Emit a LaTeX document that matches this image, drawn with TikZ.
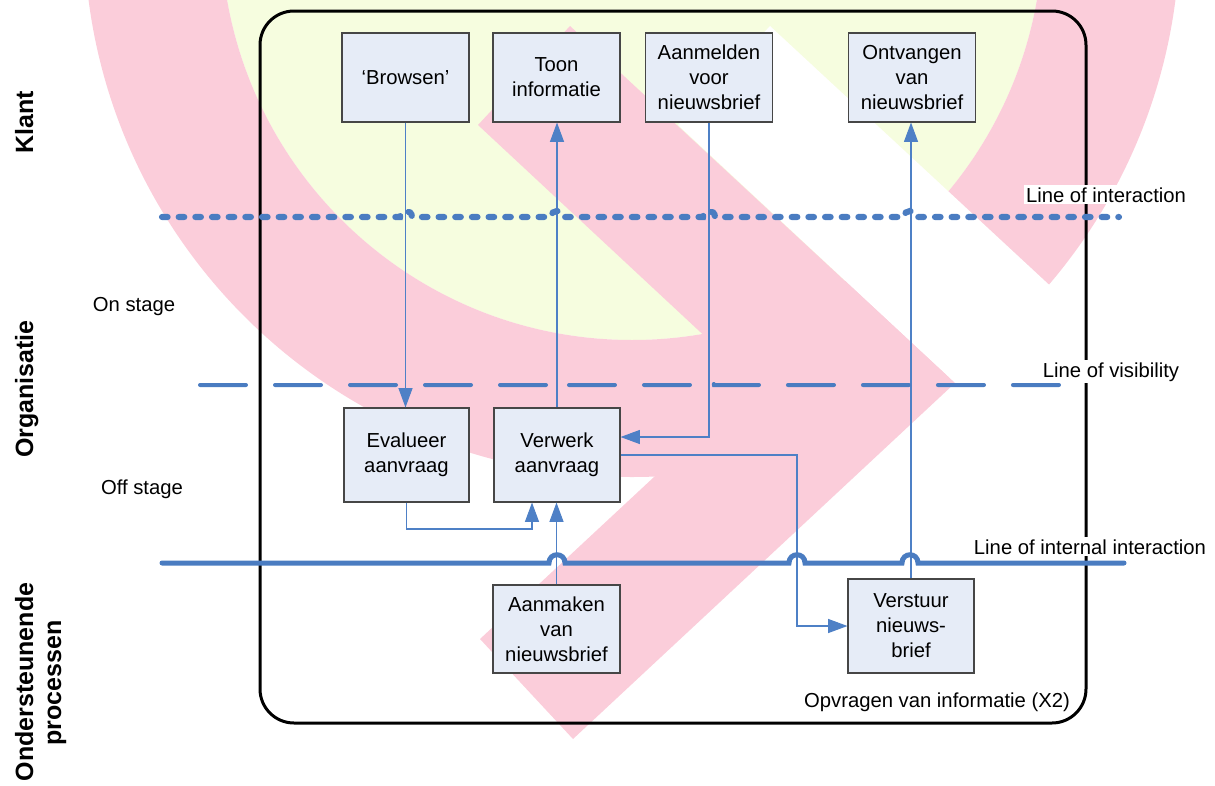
\documentclass[tikz,border=0pt]{standalone}
\usepackage{fontspec}
\setmainfont{Liberation Sans}
\usetikzlibrary{arrows.meta,calc}

\definecolor{wmpink}{RGB}{251,205,218}
\definecolor{wmlime}{RGB}{246,253,223}
\definecolor{laneblue}{RGB}{74,124,193}
\definecolor{linkblue}{RGB}{78,128,198}
\definecolor{boxfill}{RGB}{230,236,247}
\definecolor{boxedge}{RGB}{70,70,70}

\tikzset{
  txt/.style={font=\fontsize{15.2}{18.75}\selectfont},
  stepbox/.style={txt, draw=boxedge, line width=0.8pt, fill=boxfill, align=center,
                  minimum width=95.25pt, minimum height=66.75pt, inner sep=0pt},
  link/.style={draw=linkblue, line width=0.8pt},
  arr/.style={link, -{Triangle[length=14.5pt,width=10.5pt]}},
  lanelabel/.style={txt, fill=white, inner sep=1.5pt, anchor=base},
  sidelabel/.style={txt, anchor=base},
  zone/.style={font=\fontsize{18.75}{21}\selectfont\bfseries, rotate=90, anchor=base},
  interaction/.style={draw=laneblue, line width=4.6pt, line cap=round, dash pattern=on 4.2pt off 8.3pt},
  visibility/.style={draw=laneblue, line width=3pt, line cap=round, dash pattern=on 34.5pt off 21.75pt},
  internal/.style={draw=laneblue, line width=3.75pt, line cap=round},
  frame/.style={draw=black, line width=2.25pt, rounded corners=25.5pt,
                minimum width=619.5pt, minimum height=534pt, inner sep=0pt}
}

\begin{document}
\begin{tikzpicture}[x=0.75pt,y=-0.75pt]
\useasboundingbox (0,0) rectangle (1215,786);

% background logo: lime disc, pink ring, white and pink chevron bands
\begin{scope}
  \clip (0,0) rectangle (1215,786);
  \fill[wmlime] (632,-71) circle[radius=411];
  \fill[wmpink, even odd rule] (632,-71) circle[radius=548] (632,-71) circle[radius=411];
  \fill[white] (678,125) -- (770,26) -- (1155,383) -- (773,739) -- (680,639) -- (955,383) -- cycle;
  \fill[wmpink] (478,125) -- (570,26) -- (955,383) -- (573,739) -- (480,639) -- (755,383) -- cycle;
\end{scope}

% process frame
\node[frame] (frame) at (673,367) {};

% activity boxes
\node[stepbox] (browsen)   at (405.5,77.5) {‘Browsen’};
\node[stepbox] (toon)      at (556.5,77.5) {Toon\\informatie};
\node[stepbox] (aanmelden) at (709,77.5)   {Aanmelden\\voor\\nieuwsbrief};
\node[stepbox] (ontvangen) at (912,77.5)   {Ontvangen\\van\\nieuwsbrief};
\node[stepbox, minimum width=93.75pt, minimum height=70.5pt] (evalueer) at (406.5,455) {Evalueer\\aanvraag};
\node[stepbox, minimum width=94.5pt, minimum height=70.5pt]  (verwerk)  at (557,455)   {Verwerk\\aanvraag};
\node[stepbox, minimum height=66pt]   (aanmaken) at (556.5,629) {Aanmaken\\van\\nieuwsbrief};
\node[stepbox, minimum width=94.5pt, minimum height=70.5pt] (verstuur) at (911,626) {Verstuur\\nieuws-\\brief};

% bend points of the connectors
\coordinate (ejog) at (470,529);
\coordinate (vjog) at (797,540);

% connectors
\draw[arr] (browsen.south) -- (browsen.south |- evalueer.north);
\draw[arr] (verwerk.north) -- (verwerk.north |- toon.south);
\draw[arr] (aanmelden.south) |- ([yshift=13.5pt]verwerk.east);
\draw[arr] (verwerk.east) -| (vjog) |- (verstuur.west);
\draw[arr] (verstuur.north) -- (verstuur.north |- ontvangen.south);
\draw[arr] (evalueer.south) |- (ejog) -| ([xshift=-18.75pt]verwerk.south);
\draw[arr] (aanmaken.north) -- (aanmaken.north |- verwerk.south);

% swim-lane boundaries
\coordinate (ia-l)  at (162,217);  \coordinate (ia-r)  at (1119,217);
\coordinate (vis-l) at (200,385);  \coordinate (vis-r) at (1078,385);
\coordinate (int-l) at (162,563);  \coordinate (int-r) at (1124,563);

\draw[interaction] (ia-l) -- (400,217) .. controls (400,209) and (412,209) .. (412,217)
  -- (551,217) .. controls (551,209) and (563,209) .. (563,217)
  -- (703,217) .. controls (703,209) and (715,209) .. (715,217)
  -- (904,217) .. controls (904,209) and (916,209) .. (916,217) -- (ia-r);

\draw[visibility] (vis-l) -- (552,385) .. controls (552,378) and (562,378) .. (562,385)
  -- (704,385) .. controls (704,378) and (714,378) .. (714,385) -- (vis-r);

\draw[internal] (int-l) -- (549,563) .. controls (549,552) and (565,552) .. (565,563)
  -- (789,563) .. controls (789,552) and (805,552) .. (805,563)
  -- (902,563) .. controls (902,552) and (918,552) .. (918,563) -- (int-r);

% lane and frame labels
\node[lanelabel] (lbl-ia)  at (1106,202) {Line of interaction};
\node[lanelabel] (lbl-vis) at (1111,377) {Line of visibility};
\node[lanelabel] (lbl-int) at (1090,554) {Line of internal interaction};
\node[sidelabel] (lbl-proc) at (937,707) {Opvragen van informatie (X2)};
\node[sidelabel] (onstage)  at (134,311) {On stage};
\node[sidelabel] (offstage) at (142,494) {Off stage};

% lane titles
\node[zone] (klant)  at (33,122) {Klant};
\node[zone] (organisatie) at (33,389) {Organisatie};
\node[zone] (ondersteunende) at (33,682) {Ondersteunende};
\node[zone] (processen) at (61,683) {processen};
\end{tikzpicture}
\end{document}
